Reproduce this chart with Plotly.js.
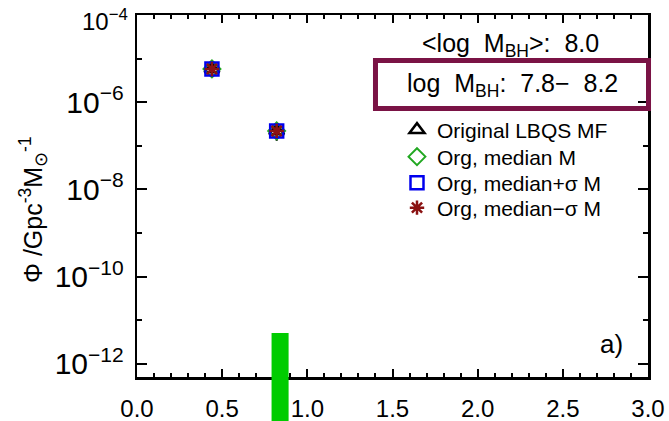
<!DOCTYPE html>
<html>
<head>
<meta charset="utf-8">
<script src="https://cdn.plot.ly/plotly-3.0.1.min.js"></script>
<style>
  html, body { margin: 0; padding: 0; background: #fff; }
  #chart { width: 669px; height: 421px; }
</style>
</head>
<body>
<div id="chart"></div>
<script>
// Redshift bin centres and space densities for the log M_BH = 7.8-8.2 slice
const zBins = [0.44, 0.82];
const phiOriginal = [5.8e-6, 2.2e-7];
const phiMedian = [5.8e-6, 2.2e-7];
const phiMedianPlus = [5.8e-6, 2.2e-7];
const phiMedianMinus = [5.8e-6, 2.2e-7];
const errUp = [1.7e-6, 0.8e-7];
const errDown = [2.0e-6, 0.9e-7];

// Highlighted redshift interval
const zHighlight = [0.79, 0.89];

const seriesNames = [
  'Original LBQS MF',
  'Org, median M',
  'Org, median+\u03c3 M',
  'Org, median\u2212\u03c3 M'
];

const FONT = 'Liberation Sans, Arial, Helvetica, sans-serif';

const traces = [
  {
    x: zBins, y: phiOriginal, name: seriesNames[0], mode: 'markers', type: 'scatter', legend: 'legend',
    marker: { symbol: 'triangle-up-open', size: 13, color: '#000', line: { width: 2.5, color: '#000' } },
    error_y: { type: 'data', symmetric: false, array: errUp, arrayminus: errDown, color: '#000', thickness: 2, width: 0 }
  },
  {
    x: zBins, y: phiMedian, name: seriesNames[1], mode: 'markers', type: 'scatter', legend: 'legend2',
    marker: { symbol: 'diamond-open', size: 13, color: '#22a822', line: { width: 2, color: '#22a822' } }
  },
  {
    x: zBins, y: phiMedianPlus, name: seriesNames[2], mode: 'markers', type: 'scatter', legend: 'legend3',
    marker: { symbol: 'square-open', size: 13, color: '#0000ee', line: { width: 2.5, color: '#0000ee' } }
  },
  {
    x: zBins, y: phiMedianMinus, name: seriesNames[3], mode: 'markers', type: 'scatter', legend: 'legend4',
    marker: { symbol: 'asterisk-open', size: 12, color: '#8a1212', line: { width: 2.5, color: '#8a1212' } }
  }
];

// One legend box per entry so the rows can be spaced freely
function legendAt(yPaper) {
  return {
    x: 0.5088, y: yPaper, xanchor: 'left', yanchor: 'middle',
    bgcolor: 'rgba(0,0,0,0)', borderwidth: 0,
    font: { family: FONT, size: 21, color: '#000' },
    itemwidth: 30
  };
}

const layout = {
  width: 669, height: 421,
  margin: { l: 137, r: 21, t: 15, b: 44 },
  paper_bgcolor: '#fff', plot_bgcolor: '#fff',
  font: { family: FONT, color: '#000', size: 18 },
  showlegend: true,
  legend: legendAt(0.6823),
  legend2: legendAt(0.6077),
  legend3: legendAt(0.5359),
  legend4: legendAt(0.4669),
  xaxis: {
    range: [0, 3], dtick: 0.5, tick0: 0,
    ticks: 'inside', ticklen: 8, tickwidth: 2, tickcolor: '#000',
    minor: { dtick: 0.1, ticks: 'inside', ticklen: 4, tickwidth: 2, tickcolor: '#000' },
    tickformat: '.1f',
    showline: true, linewidth: 2.5, linecolor: '#000', mirror: 'ticks',
    showgrid: false, zeroline: false,
    tickfont: { family: FONT, size: 24 },
    ticklabelstandoff: 9
  },
  yaxis: {
    type: 'log', range: [-12.3, -4], dtick: 2,
    exponentformat: 'power',
    ticks: 'inside', ticklen: 10, tickwidth: 2, tickcolor: '#000',
    minor: { dtick: 1, ticks: 'inside', ticklen: 5, tickwidth: 2, tickcolor: '#000' },
    showline: true, linewidth: 2.5, linecolor: '#000', mirror: 'ticks',
    showgrid: false, zeroline: false,
    tickfont: { family: FONT, size: 24 },
    ticklabelstandoff: 6
  },
  shapes: [
    {
      type: 'rect', xref: 'x', yref: 'paper',
      x0: zHighlight[0], x1: zHighlight[1], y0: -0.125, y1: 0.1215,
      fillcolor: '#00cc00', line: { width: 0 }, layer: 'above'
    },
    {
      type: 'rect', xref: 'paper', yref: 'paper',
      x0: 0.4667, x1: 1.001, y0: 0.7417, y1: 0.8743,
      line: { color: '#7a1345', width: 5 }, fillcolor: 'rgba(0,0,0,0)', layer: 'above'
    }
  ],
  annotations: [
    {
      // y-axis title
      xref: 'paper', yref: 'paper', x: 0, y: 0.5, xanchor: 'center', yanchor: 'middle',
      xshift: -104, yshift: -14, textangle: -90,
      text: '\u03a6 /Gpc<sup>-3</sup>M<sub>\u2299</sub><sup>-1</sup>', showarrow: false,
      font: { family: FONT, size: 25 }
    },
    {
      // top decade label, kept inside the page
      xref: 'paper', yref: 'paper', x: 0, y: 1, xanchor: 'right', yanchor: 'top',
      xshift: -7, yshift: 12,
      text: '10<sup>\u22124</sup>', showarrow: false,
      font: { family: FONT, size: 24 }
    },
    {
      xref: 'paper', yref: 'paper', x: 0.73, y: 0.917, xanchor: 'center', yanchor: 'middle',
      text: '&lt;log\u00a0 M<sub>BH</sub>&gt;:\u00a0 8.0', showarrow: false,
      font: { family: FONT, size: 25 }
    },
    {
      xref: 'paper', yref: 'paper', x: 0.734, y: 0.807, xanchor: 'center', yanchor: 'middle',
      text: 'log\u00a0 M<sub>BH</sub>:\u00a0 7.8\u2212\u00a0 8.2', showarrow: false,
      font: { family: FONT, size: 25 }
    },
    {
      xref: 'paper', yref: 'paper', x: 0.929, y: 0.09, xanchor: 'center', yanchor: 'middle',
      text: 'a)', showarrow: false,
      font: { family: FONT, size: 26 }
    }
  ]
};

Plotly.newPlot('chart', traces, layout, { displayModeBar: false, staticPlot: true });
</script>
</body>
</html>
